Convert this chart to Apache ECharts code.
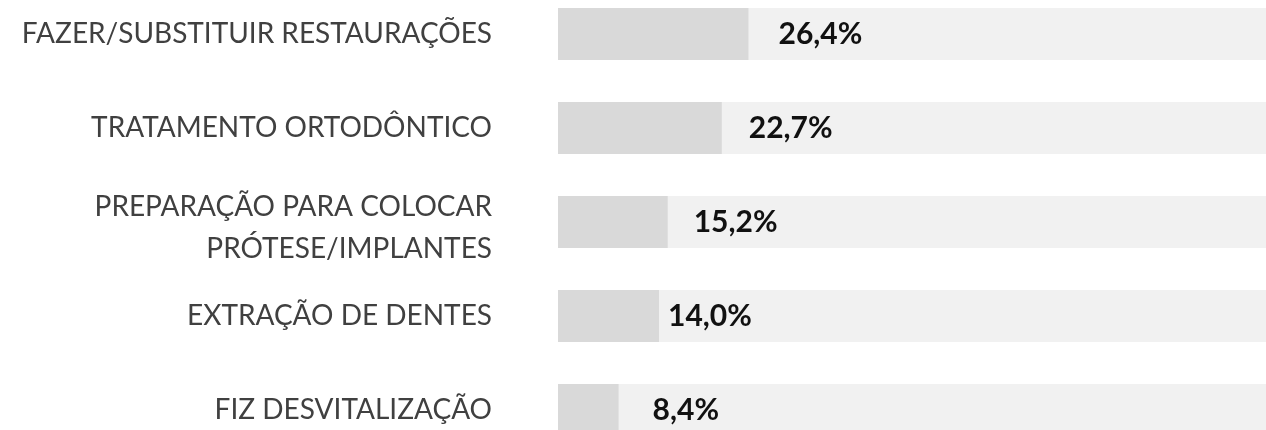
<!DOCTYPE html>
<html>
<head>
<meta charset="utf-8">
<script src="https://cdn.jsdelivr.net/npm/echarts@6/dist/echarts.min.js"></script>
<style>
  html, body { margin: 0; padding: 0; background: #fff; overflow: hidden; }
  /* chart runs a bit past the window: last bar is cut at the bottom edge */
  #chart { position: absolute; left: 0; top: -13px; width: 1290px; height: 470px; }
</style>
</head>
<body>
<div id="chart"></div>
<script>
const categories = [
    'FAZER/SUBSTITUIR RESTAURAÇÕES',
    'TRATAMENTO ORTODÔNTICO',
    'PREPARAÇÃO PARA COLOCAR\nPRÓTESE/IMPLANTES',
    'EXTRAÇÃO DE DENTES',
    'FIZ DESVITALIZAÇÃO'
];
const values = [26.4, 22.7, 15.2, 14.0, 8.4];

// gap between bar end and its label (the original is not consistent)
const labelGaps = [30, 27, 26, 9, 34];

const myChart = echarts.init(document.getElementById('chart'));

const option = {
    animation: false,
    grid: {
        left: 558,
        top: 0,
        width: 721.5,
        height: 470
    },
    xAxis: {
        type: 'value',
        min: 0,
        max: 100,
        show: false
    },
    yAxis: {
        type: 'category',
        inverse: true,
        data: categories,
        axisLine: { show: false },
        axisTick: { show: false },
        axisLabel: {
            margin: 66,
            fontFamily: 'Lato',
            fontSize: 28,
            lineHeight: 42,
            color: '#404040',
            // the two-line label sits a little lower than its bar: add a thin empty line on top
            formatter: c => c.indexOf('\n') >= 0
                ? '{gap|}\n' + c.split('\n').map(s => '{t|' + s + '}').join('\n')
                : c,
            rich: {
                gap: { lineHeight: 12, fontSize: 10 },
                t: { fontFamily: 'Lato', fontSize: 28, lineHeight: 42, color: '#404040' }
            }
        }
    },
    series: [
        {
            type: 'bar',
            barWidth: 52,
            showBackground: true,
            backgroundStyle: { color: '#f1f1f1' },
            itemStyle: { color: '#d9d9d9' },
            data: values.map((v, i) => ({
                value: v,
                label: { distance: labelGaps[i] }
            })),
            label: {
                show: true,
                position: 'right',
                fontFamily: 'Lato',
                fontWeight: 'bold',
                fontSize: 30,
                color: '#111',
                formatter: p => p.value.toFixed(1).replace('.', ',') + '%'
            }
        }
    ]
};

myChart.setOption(option);
</script>
</body>
</html>
